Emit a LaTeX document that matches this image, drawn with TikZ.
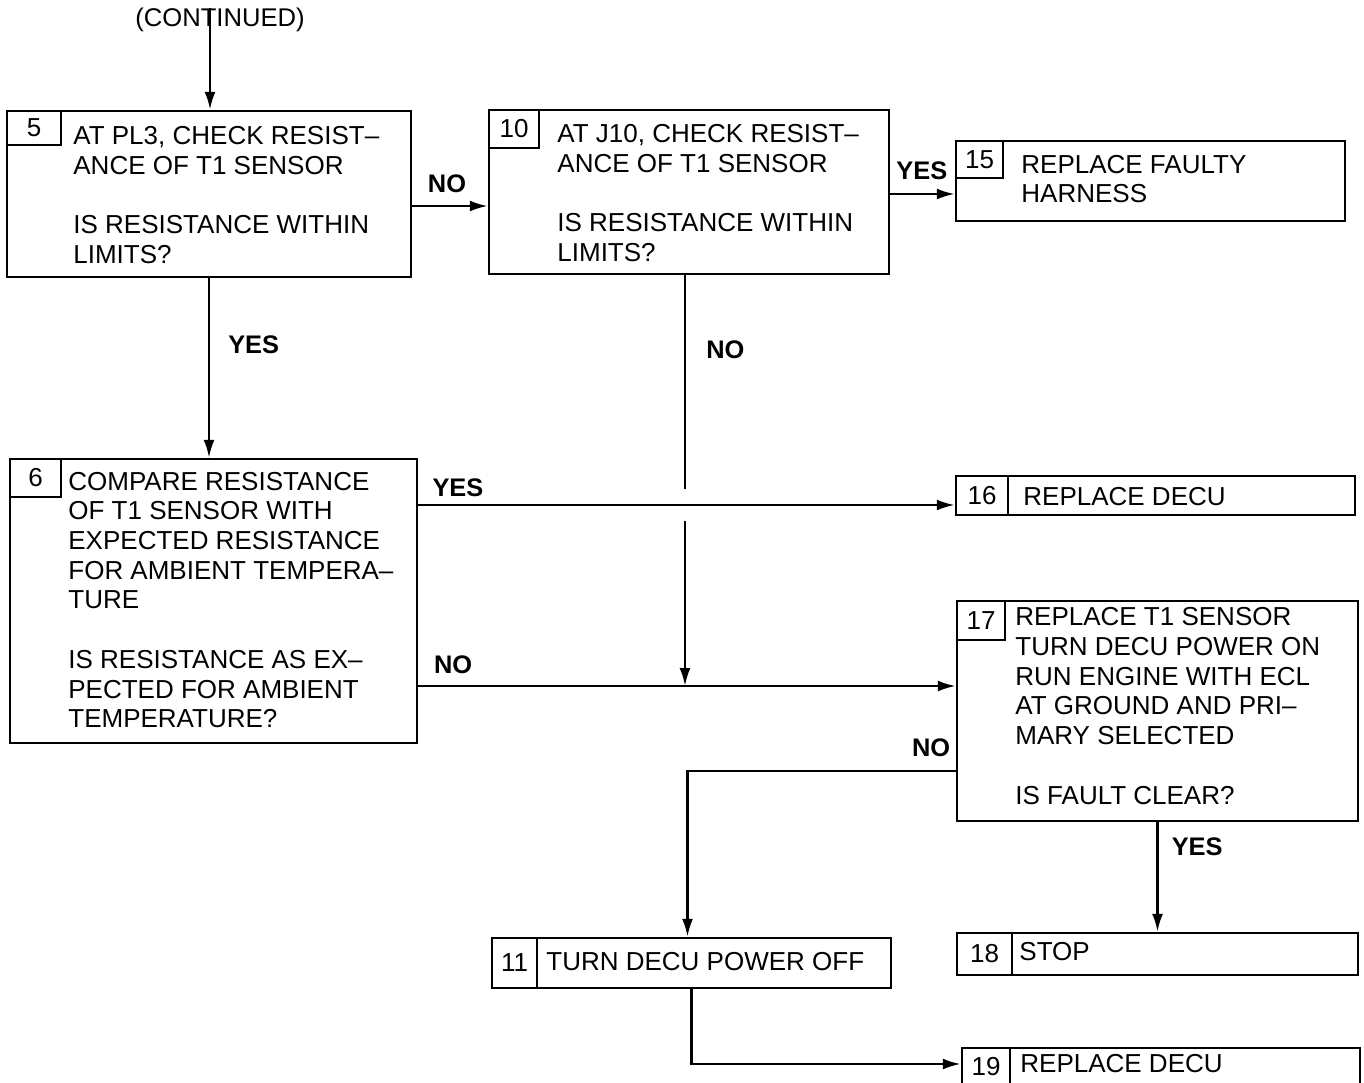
\documentclass[tikz,border=0pt]{standalone}
\usepackage{fontspec}
\setmainfont{Liberation Sans}
\usetikzlibrary{arrows.meta,fit,positioning}

\newcommand{\stepfont}{\fontsize{13}{14.85}\selectfont}

\begin{document}
\begin{tikzpicture}[x=0.5pt, y=-0.5pt, >={Latex[length=9pt,width=5.5pt]},
    stepbox/.style={draw, line width=1.25pt, inner sep=0pt},
    numcell/.style={draw, line width=1.25pt, inner sep=0pt,
        label={[font=\stepfont, inner sep=0pt]center:#1}},
    steptext/.style={anchor=west, align=left, inner sep=0pt, font=\stepfont},
    answer/.style={inner sep=0pt, font=\fontsize{12.7}{15}\selectfont\bfseries},
    flow/.style={->, line width=1.25pt}]

    \useasboundingbox (0,0) rectangle (1364,1082);
    \clip (0,0) rectangle (1364,1082);

    % Heading
    \node[inner sep=0pt, font=\fontsize{12.8}{15}\selectfont] (cont) at (220,20) {(CONTINUED)};

    % Step 5
    \node[stepbox, fit={(7,111) (411,277)}] (s5) {};
    \node[numcell=5, fit={(7,111) (61,145)}] (n5) {};
    \node[steptext] (t5) at (73,195) {AT PL3, CHECK RESIST--\\ANCE OF T1 SENSOR\\[14.85pt]IS RESISTANCE WITHIN\\LIMITS?};

    % Step 10
    \node[stepbox, fit={(489,110) (889,274)}] (s10) {};
    \node[numcell=10, fit={(489,110) (539,148)}] (n10) {};
    \node[steptext] (t10) at (557,193) {AT J10, CHECK RESIST--\\ANCE OF T1 SENSOR\\[14.85pt]IS RESISTANCE WITHIN\\LIMITS?};

    % Step 15
    \node[stepbox, fit={(956,141) (1345,221)}] (s15) {};
    \node[numcell=15, fit={(956,141) (1003,178)}] (n15) {};
    \node[steptext] (t15) at (1021,179) {REPLACE FAULTY\\HARNESS};

    % Step 6
    \node[stepbox, fit={(10,459) (417,743)}] (s6) {};
    \node[numcell=6, fit={(10,459) (61,497)}] (n6) {};
    \node[steptext] (t6) at (68,600) {COMPARE RESISTANCE\\OF T1 SENSOR WITH\\EXPECTED RESISTANCE\\FOR AMBIENT TEMPERA--\\TURE\\[14.85pt]IS RESISTANCE AS EX--\\PECTED FOR AMBIENT\\TEMPERATURE?};

    % Step 16
    \node[stepbox, fit={(956,476) (1355,515)}] (s16) {};
    \node[numcell=16, fit={(956,476) (1008,515)}] (n16) {};
    \node[steptext] (t16) at (1023,497) {REPLACE DECU};

    % Step 17
    \node[stepbox, fit={(957,601) (1358,821)}] (s17) {};
    \node[numcell=17, fit={(957,601) (1005,640)}] (n17) {};
    \node[steptext] (t17) at (1015,706) {REPLACE T1 SENSOR\\TURN DECU POWER ON\\RUN ENGINE WITH ECL\\AT GROUND AND PRI--\\MARY SELECTED\\[14.85pt]IS FAULT CLEAR?};

    % Step 11
    \node[stepbox, fit={(492,938) (891,988)}] (s11) {};
    \node[numcell=11, fit={(492,938) (537,988)}] (n11) {};
    \node[steptext] (t11) at (546,962) {TURN DECU POWER OFF};

    % Step 18
    \node[stepbox, fit={(957,933) (1358,975)}] (s18) {};
    \node[numcell=18, fit={(957,933) (1012,975)}] (n18) {};
    \node[steptext] (t18) at (1019,952) {STOP};

    % Step 19 (runs off the bottom of the sheet)
    \node[stepbox, fit={(962,1048) (1360,1086)}] (s19) {};
    \node[numcell=19, fit={(962,1048) (1010,1086)}] (n19) {};
    \node[steptext] (t19) at (1020,1064) {REPLACE DECU};

    % Flow lines
    \draw[flow] ([xshift=-5pt]cont.north) -- ([xshift=-5pt]cont.north |- s5.north);

    \draw[flow] ([yshift=-6pt]s5.east) -- ([yshift=-6pt]s5.east -| s10.west)
        node[answer, pos=0.46, above=6pt] {NO};
    \draw[flow] ([yshift=-1pt]s10.east) -- ([yshift=-1pt]s10.east -| s15.west)
        node[answer, pos=0.49, above=6.5pt] {YES};
    \draw[flow] (s5.south) -- (s5.south |- s6.north)
        node[answer, pos=0.37, right=9pt] {YES};

    \draw[flow] ([yshift=48pt]s6.east) coordinate (y6) -- (y6 -| s16.west)
        node[answer, pos=0.074, above=3.5pt] {YES};
    \draw[flow] ([yshift=-42.5pt]s6.east) coordinate (no6) -- (no6 -| s17.west)
        node[answer, pos=0.065, above=5.5pt] {NO};

    % NO from step 10 passes the YES line with a break
    \draw[line width=1.25pt] ([xshift=-2pt]s10.south) coordinate (d10) -- ([yshift=8pt]d10 |- y6)
        node[answer, pos=0.35, right=10pt] {NO};
    \draw[flow] ([yshift=-8pt]d10 |- y6) -- (d10 |- no6);

    \draw[flow] ([yshift=-30pt]s17.west) -| ([xshift=-2pt]s11.north)
        node[answer, pos=0.046, above=6.5pt] {NO};
    \draw[flow] (s17.south) -- (s17.south |- s18.north)
        node[answer, pos=0.22, right=6.5pt] {YES};

    \draw[flow] (s11.south) |- ([yshift=1.5pt]s19.west);

\end{tikzpicture}
\end{document}
